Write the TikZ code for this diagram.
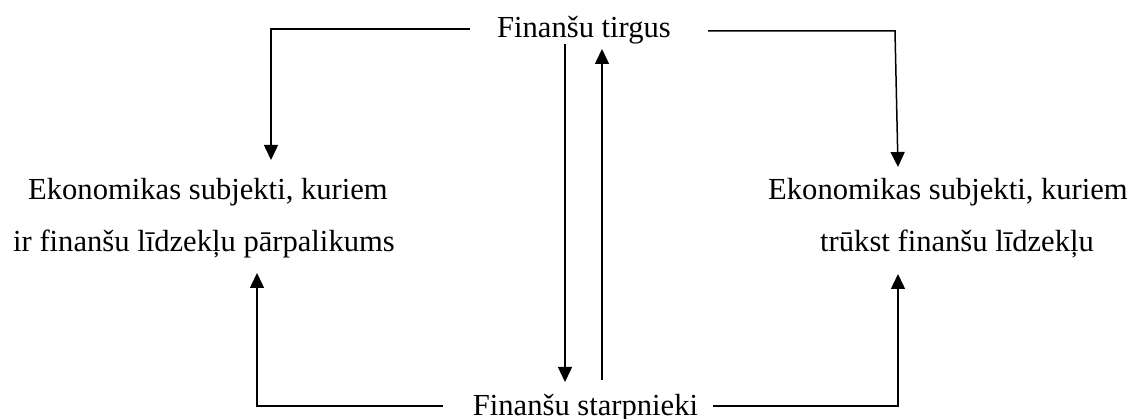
\documentclass[tikz,border=0pt]{standalone}
\usepackage{fontspec}
\setmainfont{Liberation Serif}
\usetikzlibrary{arrows.meta}
\begin{document}
\begin{tikzpicture}[x=1pt,y=-1pt,
  lbl/.style={inner sep=0pt,font=\fontsize{30.6}{36}\selectfont},
  conn/.style={line width=1.5pt},
  arr/.style={conn,-{Triangle[length=15pt,width=14pt]}}]
\useasboundingbox (0,0) rectangle (1135,419);
% texts
\node[lbl,anchor=base] (ft) at (584,38) {Finanšu tirgus};
\node[lbl,anchor=base] (fs) at (585.5,415) {Finanšu starpnieki};
\node[lbl,anchor=base west] (l1) at (28,200) {Ekonomikas subjekti, kuriem};
\node[lbl,anchor=base west] (l2) at (13,252) {ir finanšu līdzekļu pārpalikums};
\node[lbl,anchor=base west] (r1) at (768,200) {Ekonomikas subjekti, kuriem};
\node[lbl,anchor=base west] (r2) at (820,252) {trūkst finanšu līdzekļu};
% connector end points
\coordinate (tlA) at (470,29);
\coordinate (tlB) at (271,29);
\coordinate (tlC) at (271,160);
\coordinate (trA) at (708,31);
\coordinate (trB) at (895,31);
\coordinate (trC) at (898,167);
\coordinate (mdA) at (565,44);
\coordinate (mdB) at (565,382);
\coordinate (muA) at (602,380);
\coordinate (muB) at (602,49);
\coordinate (blA) at (443,406);
\coordinate (blB) at (257,406);
\coordinate (blC) at (257,273);
\coordinate (brA) at (713,406);
\coordinate (brB) at (898,406);
\coordinate (brC) at (898,274);
% connectors
\draw[arr] (tlA) -- (tlB) -- (tlC);
\draw[arr] (trA) -- (trB) -- (trC);
\draw[arr] (mdA) -- (mdB);
\draw[arr] (muA) -- (muB);
\draw[arr] (blA) -- (blB) -- (blC);
\draw[arr] (brA) -- (brB) -- (brC);
\end{tikzpicture}
\end{document}
